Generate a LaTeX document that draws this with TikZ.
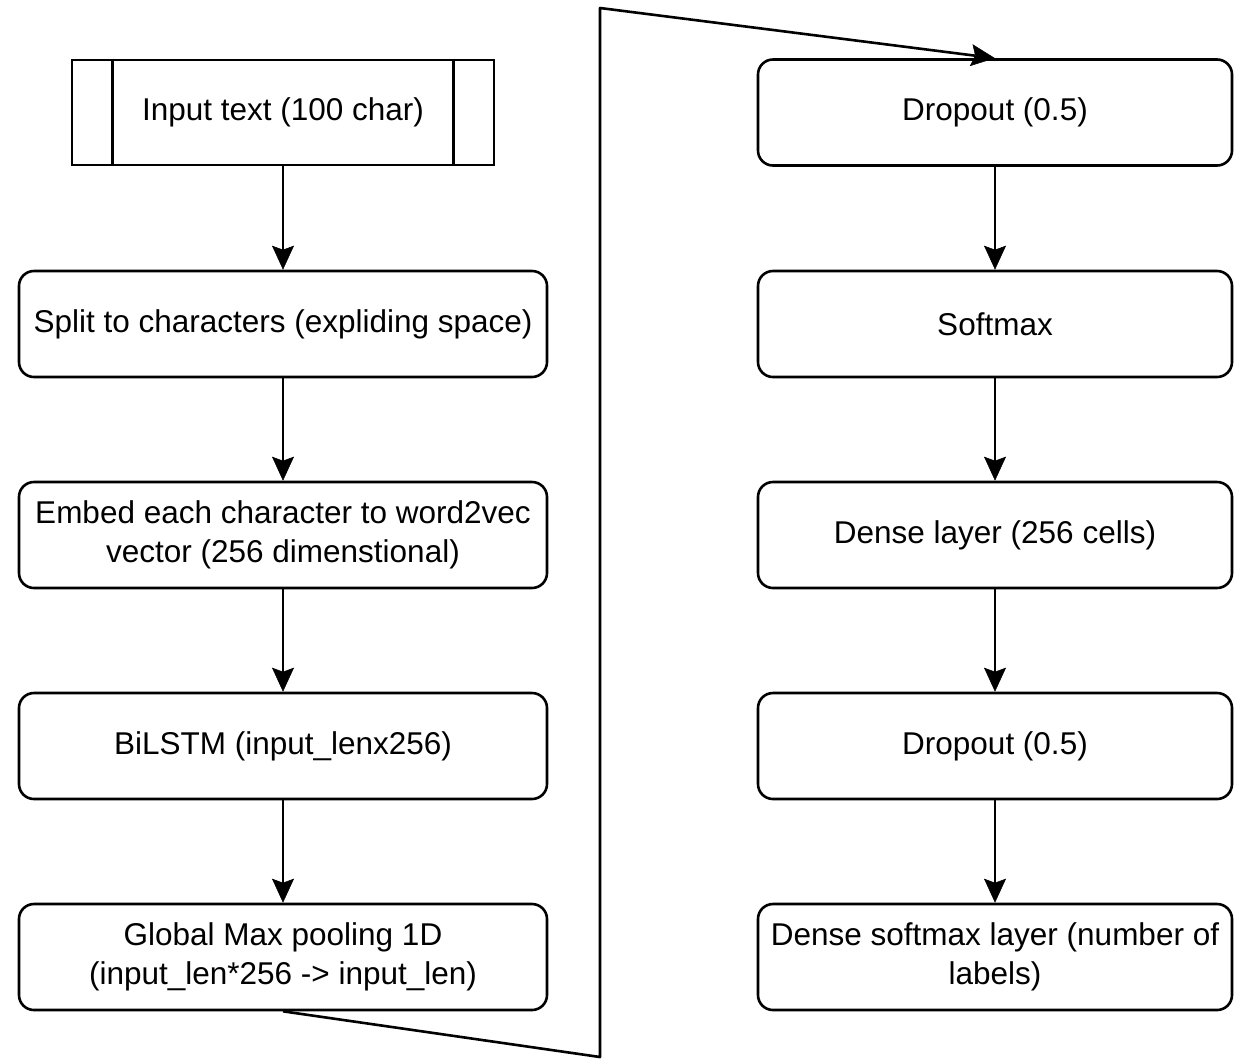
\documentclass[tikz,border=0pt]{standalone}
\usepackage{fontspec}
\setmainfont{Liberation Sans}
\usetikzlibrary{arrows.meta}

\tikzstyle{block} = [align=center, draw, rectangle, rounded corners=15pt, minimum height=106pt, inner sep=0pt, line width=2.6pt]
\tikzstyle{wideblock} = [block, minimum width=528pt]
\tikzstyle{rightblock} = [block, minimum width=474pt]
\tikzstyle{link} = [line width=2.6pt, -{Stealth[length=24pt,width=22pt,inset=4pt,line width=0.5pt]}]

\begin{document}
\begin{tikzpicture}[x=1pt,y=-1pt,font=\fontsize{31.5}{39}\selectfont]
            \useasboundingbox (0,0) rectangle (1238,1061);
            %
            % Left column: the input and the first layers
            \node [block, rounded corners=0pt, minimum width=422pt, minimum height=105pt] (input) at (283,112.5) {Input text (100 char)};
            \draw [line width=2.6pt] ([xshift=42pt]input.north west) -- ([xshift=42pt]input.south west);
            \draw [line width=2.6pt] ([xshift=-42pt]input.north east) -- ([xshift=-42pt]input.south east);
            \node [wideblock] (split) at (283,324) {Split to characters (expliding space)};
            \node [wideblock] (embed) at (283,535) {Embed each character to word2vec\\vector (256 dimenstional)};
            \node [wideblock] (bilstm) at (283,746) {BiLSTM (input\_lenx256)};
            \node [wideblock] (pool) at (283,957) {Global Max pooling 1D\\(input\_len*256 -> input\_len)};
            %
            % Right column: the classifier layers
            \node [rightblock] (drop1) at (995,112.5) {Dropout (0.5)};
            \node [rightblock] (softmax) at (995,324) {Softmax};
            \node [rightblock] (dense) at (995,535) {Dense layer (256 cells)};
            \node [rightblock] (drop2) at (995,746) {Dropout (0.5)};
            \node [rightblock] (output) at (995,957) {Dense softmax layer (number of\\labels)};
            %
            % Once the nodes are placed, connecting them is easy.
            \draw [link] (input) -- (split);
            \draw [link] (split) -- (embed);
            \draw [link] (embed) -- (bilstm);
            \draw [link] (bilstm) -- (pool);
            \draw [link] (drop1) -- (softmax);
            \draw [link] (softmax) -- (dense);
            \draw [link] (dense) -- (drop2);
            \draw [link] (drop2) -- (output);
            % The jump from the bottom of the left column to the top of the right one
            \coordinate (low) at (600,1057);
            \coordinate (high) at (600,8);
            \draw [link, line join=round] (pool.south) -- (low) -- (high) -- (drop1.north);
            %
        \end{tikzpicture}
\end{document}
